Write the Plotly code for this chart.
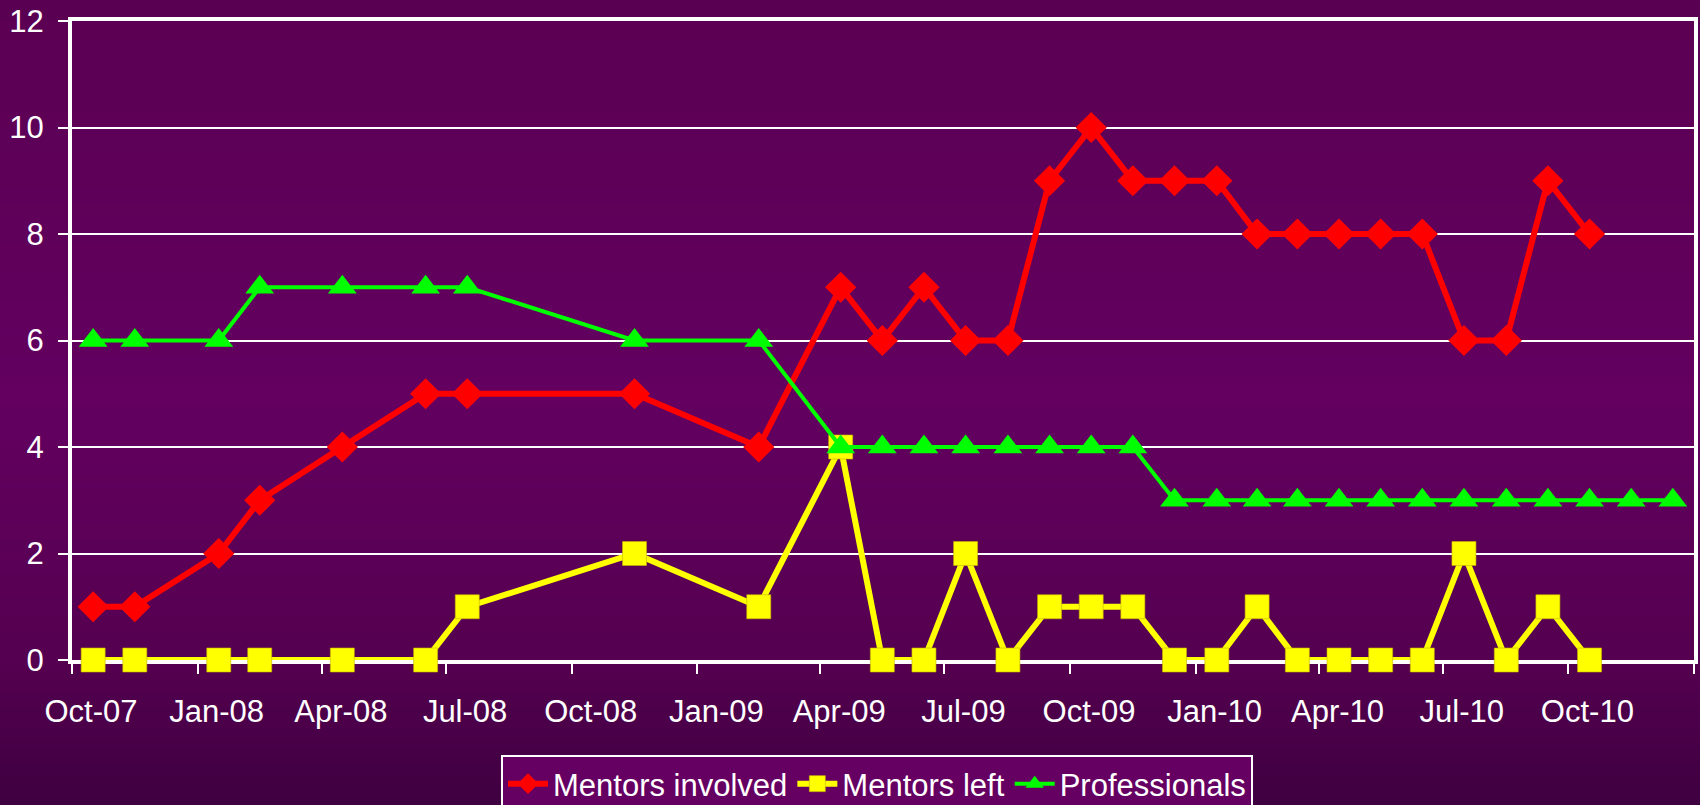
import pandas as pd
import plotly.graph_objects as go

# ---- data ----
mentor_months = ["2007-10", "2007-11", "2008-01", "2008-02", "2008-04", "2008-06", "2008-07",
                 "2008-11", "2009-02", "2009-04", "2009-05", "2009-06", "2009-07", "2009-08",
                 "2009-09", "2009-10", "2009-11", "2009-12", "2010-01", "2010-02", "2010-03",
                 "2010-04", "2010-05", "2010-06", "2010-07", "2010-08", "2010-09", "2010-10"]
mentors_involved = [1, 1, 2, 3, 4, 5, 5, 5, 4, 7, 6, 7, 6, 6, 9, 10, 9, 9, 9, 8, 8, 8, 8, 8, 6, 6, 9, 8]
mentors_left = [0, 0, 0, 0, 0, 0, 1, 2, 1, 4, 0, 0, 2, 0, 1, 1, 1, 0, 0, 1, 0, 0, 0, 0, 2, 0, 1, 0]

prof_months = mentor_months + ["2010-11", "2010-12"]
professionals = [6, 6, 6, 7, 7, 7, 7, 6, 6, 4, 4, 4, 4, 4, 4, 4, 4, 3, 3, 3, 3, 3, 3, 3, 3, 3, 3, 3, 3, 3]

tick_dates = ["2007-10-01", "2008-01-01", "2008-04-01", "2008-07-01", "2008-10-01", "2009-01-01",
              "2009-04-01", "2009-07-01", "2009-10-01", "2010-01-01", "2010-04-01", "2010-07-01",
              "2010-10-01", "2011-01-01"]
tick_labels = ["Oct-07", "Jan-08", "Apr-08", "Jul-08", "Oct-08", "Jan-09", "Apr-09", "Jul-09",
               "Oct-09", "Jan-10", "Apr-10", "Jul-10", "Oct-10", ""]


def mid_month(months):
    out = []
    for m in months:
        p = pd.Period(m, freq="M")
        s = p.start_time
        e = (p + 1).start_time
        out.append(s + (e - s) / 2)
    return out


FONT = "Liberation Sans, Arial, sans-serif"
FS = 31
fig = go.Figure()

fig.add_trace(go.Scatter(
    x=mid_month(mentor_months), y=mentors_involved, name="Mentors involved",
    mode="lines+markers", cliponaxis=False,
    line=dict(color="#ff0000", width=6),
    marker=dict(symbol="diamond", size=24, color="#ff0000")))
fig.add_trace(go.Scatter(
    x=mid_month(mentor_months), y=mentors_left, name="Mentors left",
    mode="lines+markers", cliponaxis=False,
    line=dict(color="#ffff00", width=6),
    marker=dict(symbol="square", size=24, color="#ffff00", line=dict(color="#c8b400", width=0.6))))
fig.add_trace(go.Scatter(
    x=mid_month(prof_months), y=professionals, name="Professionals",
    mode="lines+markers", cliponaxis=False,
    line=dict(color="#00ff00", width=4),
    marker=dict(symbol="triangle-up", size=25, color="#00ff00")))

# background gradient (whole slide)
W, H = 1700, 805
L, R, T, B = 72, 6, 21, 145
pw, ph = W - L - R, H - T - B
stops = [(0, (0x5a, 0x00, 0x52)), (400, (0x63, 0x00, 0x60)), (660, (0x55, 0x00, 0x50)), (805, (0x3e, 0x00, 0x40))]


def col_at(p):
    for (p0, c0), (p1, c1) in zip(stops[:-1], stops[1:]):
        if p0 <= p <= p1:
            t = (p - p0) / (p1 - p0)
            return "rgb(%d,%d,%d)" % tuple(round(a + (b - a) * t) for a, b in zip(c0, c1))
    return "rgb(%d,%d,%d)" % stops[-1][1]


shapes = []
band = 7
for p in range(0, H, band):
    shapes.append(dict(type="rect", xref="paper", yref="paper", layer="below",
                       x0=(0 - L - 5) / pw, x1=(W - L + 5) / pw,
                       y0=(H - B - (p + band + 1)) / ph, y1=(H - B - p) / ph,
                       fillcolor=col_at(p + band / 2), line=dict(width=0)))

fig.update_layout(
    width=W, height=H,
    margin=dict(l=L, r=R, t=T, b=B, autoexpand=False),
    paper_bgcolor="#4e004b",
    plot_bgcolor="rgba(0,0,0,0)",
    shapes=shapes,
    font=dict(family=FONT, color="white", size=FS),
    showlegend=True,
    legend=dict(orientation="h", x=(877 - L) / pw, xanchor="center", y=(H - B - 755) / ph, yanchor="top",
                bgcolor="#650062", bordercolor="white", borderwidth=2,
                font=dict(family=FONT, size=FS, color="white"), itemwidth=40,
                tracegroupgap=0),
)
fig.update_xaxes(
    type="date", range=["2007-10-01", "2011-01-01"],
    tickmode="array", tickvals=tick_dates, ticktext=tick_labels,
    ticks="outside", ticklen=10, tickwidth=2, tickcolor="white",
    ticklabelshift=19, ticklabelstandoff=11,
    showline=True, linecolor="white", linewidth=4, mirror=True,
    showgrid=False, zeroline=False, layer="below traces",
    tickfont=dict(family=FONT, size=FS, color="white"))
fig.update_yaxes(
    range=[0, 12], dtick=2, tick0=0,
    ticks="outside", ticklen=10, tickwidth=2, tickcolor="white",
    ticklabelstandoff=8,
    showline=True, linecolor="white", linewidth=4, mirror=True,
    showgrid=True, gridcolor="white", gridwidth=1.5, zeroline=False, layer="below traces",
    tickfont=dict(family=FONT, size=FS, color="white"))

fig.write_html("out.html", config={"displayModeBar": False},
               post_script="document.body.style.margin='0';document.body.style.overflow='hidden';")
